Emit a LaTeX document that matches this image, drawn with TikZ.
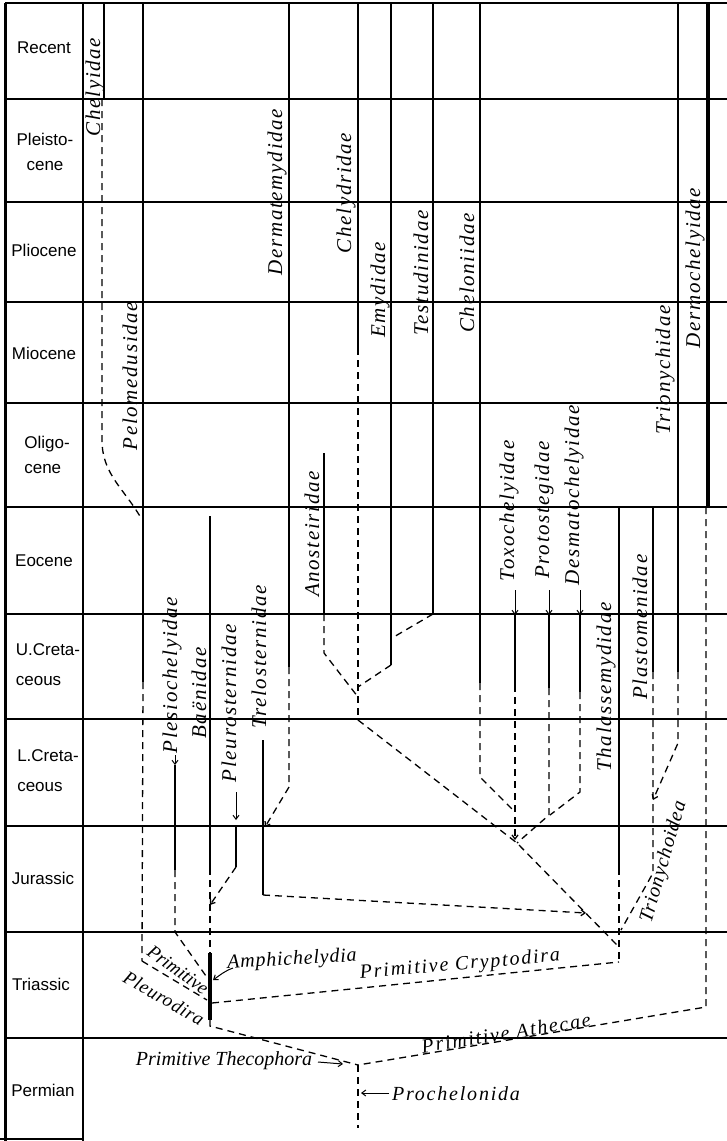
\documentclass[tikz,border=0pt]{standalone}
\usepackage{fontspec}
\setmainfont{Liberation Serif}
\newfontfamily\erafont{Liberation Sans}
\newfontfamily\taxfont[LetterSpace=8]{Liberation Serif}
\newfontfamily\notefont{Liberation Serif}
\newfontfamily\notemid[LetterSpace=4]{Liberation Serif}
\newfontfamily\notewide[LetterSpace=9]{Liberation Serif}
\usetikzlibrary{arrows.meta}
\tikzset{
 gridline/.style={line width=1.3pt},
 border/.style={line width=3pt},
 taxon/.style={line width=2.4pt},
 bar/.style={line width=3.8pt},
 link/.style={line width=1.3pt, dash pattern=on 7pt off 5pt},
 tip/.style={-{Straight Barb[length=4pt,width=6pt]}},
 pointer/.style={tip, line width=1pt},
 era/.style={font=\erafont\fontsize{17}{25}\selectfont, inner sep=0},
 fam/.style={font=\taxfont\itshape\fontsize{21}{21}\selectfont, rotate=90, inner sep=0},
 note/.style={font=\notefont\itshape\fontsize{20}{20}\selectfont, inner sep=0},
 notem/.style={font=\notemid\itshape\fontsize{20}{20}\selectfont, inner sep=0},
 notew/.style={font=\notewide\itshape\fontsize{20}{20}\selectfont, inner sep=0},
}
\begin{document}
\begin{tikzpicture}[x=1pt,y=-1pt]
\useasboundingbox (0,0) rectangle (727,1141);
\fill[white] (0,0) rectangle (727,1141);
% ---------------- grid
\foreach \y in {3,99,202,302,403,507,614,719,826,932,1038}
  \draw[gridline] (5,\y) -- (727,\y);
\draw[border] (5,3) -- (5,1141);
\draw[line width=2.2pt] (83,3) -- (83,1141);
\draw[gridline] (0,1139) -- (83,1139);
% ---------------- era labels
\node[era] (recent) at (44,48) {Recent};
\node[era,align=center] (pleist) at (45,152) {Pleisto-\\cene};
\node[era] (plio) at (44,250) {Pliocene};
\node[era] (mio) at (44,353) {Miocene};
\node[era,align=left] (oligo) at (47,455) {Oligo-\\cene};
\node[era] (eoc) at (44,561) {Eocene};
\node[era,align=left,font=\erafont\fontsize{17}{30}\selectfont] (ucret) at (48,665) {U.Creta-\\ceous};
\node[era,align=left,font=\erafont\fontsize{17}{30}\selectfont] (lcret) at (48,771) {L.Creta-\\ceous};
\node[era] (jur) at (43,878) {Jurassic};
\node[era] (tri) at (41,984) {Triassic};
\node[era] (perm) at (43,1090) {Permian};
% ---------------- solid ranges
\draw[taxon,line width=1.8pt] (104,3) coordinate (chyT) -- (104,99) coordinate (chyB);
\draw[taxon] (143,3) coordinate (pelT) -- (143,682) coordinate (pelB);
\draw[taxon] (289,3) coordinate (derT) -- (289,667) coordinate (derB);
\draw[taxon] (358,3) coordinate (cdrT) -- (358,348) coordinate (cdrB);
\draw[taxon] (391,3) coordinate (emyT) -- (391,665) coordinate (emyB);
\draw[taxon] (433,3) coordinate (tesT) -- (433,614) coordinate (tesB);
\draw[taxon] (480,3) coordinate (cheT) -- (480,683) coordinate (cheB);
\draw[taxon,line width=2pt] (678,3) coordinate (triT) -- (678,672) coordinate (triB);
\draw[bar] (708,3) coordinate (dmcT) -- (708,507) coordinate (dmcB);
\draw[taxon] (324,453) coordinate (anoT) -- (324,614) coordinate (anoB);
\draw[taxon] (210,516) coordinate (baeT) -- (210,868) coordinate (baeB);
\draw[taxon] (619,507) coordinate (thaT) -- (619,868) coordinate (thaB);
\draw[taxon] (653,507) coordinate (plaT) -- (653,672) coordinate (plaB);
\draw[taxon] (515,615) coordinate (toxT) -- (515,685) coordinate (toxB);
\draw[taxon] (549,615) coordinate (proT) -- (549,688) coordinate (proB);
\draw[taxon] (580,615) coordinate (desT) -- (580,692) coordinate (desB);
\draw[taxon] (263,740) coordinate (treT) -- (263,895) coordinate (treB);
\draw[taxon] (175,765) coordinate (pleT) -- (175,870) coordinate (pleB);
\draw[taxon] (236,826) coordinate (plsT) -- (236,867) coordinate (plsB);
\draw[bar] (210,953) coordinate (ampT) -- (210,1020) coordinate (ampB);
% ---------------- junction points
\coordinate (pleuroJ) at (207,1000);
\coordinate (cryJ) at (212,1003);
\coordinate (cryTop) at (619,962);
\coordinate (root) at (358,1065);
\coordinate (rootB) at (358,1128);
\coordinate (athJ) at (706,1007);
\coordinate (cdrJ) at (358,720);
\coordinate (cheloJ) at (517,843);
\coordinate (cryDiag) at (617,945);
\coordinate (trinJ) at (621,930);
% ---------------- dashed connectors
\draw[link] (chyB) ++(-2,0) -- (102,440) to[out=-90,in=120] (141,518);
\draw[link] (pelB) -- (142,961) coordinate (pelJ);
\draw[link] (pelJ) -- (pleuroJ);
\draw[link,tip] (derB) -- (289,787) -- (265,827);
\draw[link] (cdrB) -- (cdrJ);
\draw[link] (anoB) -- (324,653) -- (358,697);
\draw[link] (emyB) -- (358,687);
\draw[link] (tesB) -- (392,638);
\draw[link] (cdrJ) -- (cheloJ) -- (cryDiag);
\draw[link] (cheB) -- (480,777) -- (515,812);
\draw[link,tip] (toxB) -- (515,840);
\draw[link] (desB) -- (580,792) -- (550,815);
\draw[link] (proB) -- (549,815) -- (cheloJ);
\draw[link] (thaB) -- (cryTop);
\draw[link] (plaB) -- (653,873) -- (trinJ);
\draw[link,tip] (triB) -- (678,743) -- (653,800);
\draw[link] (dmcB) ++(-2,0) -- (athJ) -- (root);
\draw[link] (cryJ) -- (cryTop);
\draw[link,tip] (treB) -- (586,913);
\draw[link,tip] (plsB) -- (210,905);
\draw[link] (baeB) -- (ampT);
\draw[link] (pleB) -- (175,932) -- (206,976);
\draw[link] (ampB) -- (210,1026) -- (root);
\draw[link] (root) -- (rootB);
% ---------------- family labels
\node[fam] (lchy) at (95,87) {Chelyidae};
\node[fam] (lpel) at (130,376) {Pelomedusidae};
\node[fam] (lder) at (277,192) {Dermatemydidae};
\node[fam] (lcdr) at (346,193) {Chelydridae};
\node[fam] (lemy) at (380,290) {Emydidae};
\node[fam] (ltes) at (421,273) {Testudinidae};
\node[fam] (lche) at (467,273) {Cheloniidae};
\node[fam] (ltri) at (665,370) {Trionychidae};
\node[fam] (ldmc) at (695,268) {Dermochelyidae};
\node[fam] (lano) at (312,534) {Anosteiridae};
\node[fam] (ltox) at (509,511) {Toxochelyidae};
\node[fam] (lpro) at (544,510) {Protostegidae};
\node[fam] (ldes) at (574,495) {Desmatochelyidae};
\node[fam] (ltha) at (606,687) {Thalassemydidae};
\node[fam] (lpla) at (640,627) {Plastomenidae};
\node[fam] (lple) at (172,675) {Plesiochelyidae};
\node[fam] (lbae) at (199,693) {Baënidae};
\node[fam] (lpls) at (229,703) {Pleurosternidae};
\node[fam] (ltre) at (259,657) {Trelosternidae};
\node[notem,rotate=74] (ltrn) at (664,862) {Trionychoidea};
% ---------------- label arrows
\draw[pointer] (515,590) -- (toxT);
\draw[pointer] (549,590) -- (proT);
\draw[pointer] (580,590) -- (desT);
\draw[pointer] (236,792) -- (236,820);
\draw[pointer] (175,755) -- (pleT);
% ---------------- other labels
\node[notem,rotate=3] (lamp) at (292,960) {Amphichelydia};
\draw[pointer] (233,968) to[out=200,in=35] (213,980);
\node[notew,rotate=5] (lcry) at (460,965) {Primitive Cryptodira};
\node[notew,rotate=9] (lath) at (506,1033) {Primitive Athecae};
\node[note,rotate=-36,font=\notefont\itshape\fontsize{19}{19}\selectfont] (lpri) at (178,970) {Primitive};
\node[notem,rotate=-30,font=\notemid\itshape\fontsize{19}{19}\selectfont] (lpld) at (164,998) {Pleurodira};
\node[note] (lthe) at (224,1061) {Primitive Thecophora};
\draw[pointer] (318,1062) -- (343,1064);
\node[notew] (lpch) at (456,1094) {Prochelonida};
\draw[pointer] (389,1093) -- (361,1093);
\end{tikzpicture}
\end{document}
